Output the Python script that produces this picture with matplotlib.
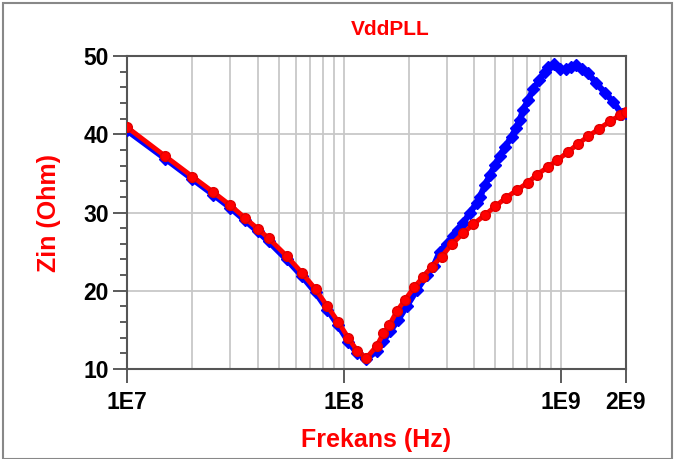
import numpy as np
import matplotlib
matplotlib.use("Agg")
import matplotlib.pyplot as plt
from matplotlib.ticker import FixedLocator, MultipleLocator, NullFormatter
from matplotlib.patches import Rectangle

plt.rcParams['font.family'] = ['Liberation Sans', 'DejaVu Sans']

# red trace (frekans, Zin)
f_red = [1e7, 1.5e7, 2e7, 2.5e7, 3e7, 3.5e7, 4e7, 4.5e7, 5.45e7, 6.4e7, 7.4e7,
         8.4e7, 9.4e7, 1.05e8, 1.15e8, 1.27e8, 1.42e8, 1.52e8, 1.62e8, 1.76e8,
         1.91e8, 2.11e8, 2.31e8, 2.54e8, 2.82e8, 3.14e8, 3.55e8, 3.95e8, 4.47e8,
         5.0e8, 5.59e8, 6.26e8, 7.03e8, 7.79e8, 8.7e8, 9.64e8, 1.077e9, 1.205e9,
         1.34e9, 1.5e9, 1.69e9, 1.87e9, 2e9]
z_red = [40.9, 37.2, 34.6, 32.6, 30.9, 29.3, 27.95, 26.7, 24.44, 22.3, 20.2,
         18.0, 16.06, 13.94, 12.36, 11.4, 12.97, 14.55, 15.61, 17.44,
         18.8, 20.45, 21.7, 23.07, 24.35, 25.93, 27.34, 28.5, 29.68,
         30.8, 31.87, 32.84, 33.79, 34.85, 35.79, 36.68, 37.7, 38.81,
         39.74, 40.69, 41.66, 42.4, 42.8]

# blue trace
f_blue = [1e7, 1.5e7, 2e7, 2.5e7, 3e7, 3.5e7, 4e7, 4.5e7, 5.45e7, 6.4e7, 7.4e7,
          8.4e7, 9.4e7, 1.05e8, 1.15e8, 1.27e8, 1.42e8, 1.52e8, 1.63e8, 1.78e8,
          1.95e8, 2.17e8, 2.41e8, 2.6e8, 2.77e8, 2.98e8, 3.19e8, 3.35e8, 3.55e8,
          3.81e8, 4.1e8, 4.24e8, 4.48e8, 4.72e8, 4.98e8, 5.25e8, 5.54e8, 5.94e8,
          6.21e8, 6.48e8, 6.71e8, 7.08e8, 7.47e8, 7.96e8, 8.46e8, 8.76e8, 9.3e8,
          9.9e8, 1.056e9, 1.12e9, 1.17e9, 1.25e9, 1.34e9, 1.46e9, 1.6e9, 1.75e9,
          1.91e9, 2e9]
z_blue = [40.5, 36.9, 34.3, 32.3, 30.6, 29.0, 27.6, 26.3, 24.0, 21.9, 19.8,
          17.6, 15.6, 13.5, 12.0, 11.3, 12.3, 13.6, 14.8, 16.3,
          18.05, 20.1, 22.0, 23.2, 25.0, 26.0, 27.0, 27.7, 28.6,
          30.0, 31.2, 32.0, 33.5, 34.8, 36.07, 37.22, 38.41, 39.69,
          40.76, 41.82, 43.1, 44.38, 45.74, 46.93, 47.99, 48.63, 48.98,
          48.3, 48.3, 48.63, 48.85, 48.3, 47.78, 46.5, 45.3, 44.1,
          42.6, 42.7]

x_ticks = [1e7, 1e8, 1e9, 2e9]
x_ticklabels = ['1E7', '1E8', '1E9', '2E9']
y_ticks = [10, 20, 30, 40, 50]

fig = plt.figure(figsize=(6.75, 4.59), dpi=100)
ax = fig.add_axes([127/675, 1-369/459, (626-127)/675, (369-56)/459])

ax.plot(f_blue, z_blue, color='#0000ff', lw=4.5, marker='D', ms=6.5, mec='#0000ff', zorder=3)
ax.plot(f_red, z_red, color='#ff0000', lw=3.5, marker='o', ms=7, mec='#e00000', zorder=4)

ax.set_xscale('log')
ax.set_xlim(1e7, 2e9)
ax.set_ylim(10, 50)

# grid lines
for f in [m * 10**e for e in (7, 8) for m in range(2, 10)] + [1e8, 1e9]:
    ax.axvline(f, color='#c8c8c8', lw=1.3, zorder=1)
for y in [20, 30, 40]:
    ax.axhline(y, color='#c8c8c8', lw=1.3, zorder=1)

ax.xaxis.set_major_locator(FixedLocator(x_ticks))
ax.set_xticklabels(x_ticklabels)
ax.xaxis.set_minor_locator(FixedLocator([]))
ax.xaxis.set_minor_formatter(NullFormatter())
ax.yaxis.set_major_locator(FixedLocator(y_ticks))
ax.yaxis.set_minor_locator(MultipleLocator(2))

ax.tick_params(axis='both', which='major', direction='out', length=10, width=1.2,
               color='#404040', labelsize=16.5, pad=3)
ax.tick_params(axis='y', which='minor', direction='out', length=5, width=1.2, color='#404040')
ax.tick_params(axis='x', which='major', pad=6)
for lab in ax.get_xticklabels() + ax.get_yticklabels():
    lab.set_fontweight('bold')

for s in ax.spines.values():
    s.set_color('#555555')
    s.set_linewidth(1.5)

ax.set_title('VddPLL', color='#ff0000', fontsize=15, fontweight='bold', x=0.527, pad=15)
ax.set_xlabel('Frekans (Hz)', color='#ff0000', fontsize=18, fontweight='bold', labelpad=10)
ax.set_ylabel('Zin (Ohm)', color='#ff0000', fontsize=18, fontweight='bold', labelpad=16)

fig.patches.append(Rectangle((3/675, 0), 669/675, 1-3/459, transform=fig.transFigure,
                             fill=False, edgecolor='#888888', lw=1.5))

fig.savefig('out.png', dpi=100)
